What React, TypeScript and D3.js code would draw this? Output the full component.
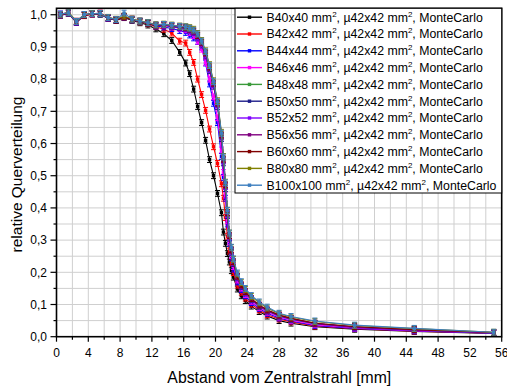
import React from "react";
import * as d3 from "d3";

const X_MM = [0.5,1.5,2.5,3.5,4.5,5.5,6.5,7.5,8.5,9.5,10.5,11.5,12.5,13.5,14.5,15.5,16.25,16.75,17.25,17.75,18.25,18.75,19.25,19.75,20.25,20.75,21.0,21.25,21.5,21.75,22.0,22.25,22.75,23.25,23.75,24.5,25.5,26.5,28,29.5,32.5,37.5,45,55];

const B40 = [1.001,1.004,0.976,0.998,1.004,1.002,0.989,0.982,0.991,0.983,0.975,0.968,0.956, 0.941,0.92,0.883, 0.85,0.817,0.769,0.715,0.665,0.61,0.55,0.5,0.445,0.385, 0.325,0.29,0.258,0.232,0.205,0.185, 0.148,0.127,0.112, 0.095,0.078,0.064, 0.05,0.042,0.031,0.023,0.016,0.01];
const B42 = [0.999,1.007,0.979,0.997,1.002,1.005,0.991,0.985,0.993,0.986,0.978,0.972,0.963, 0.955,0.943,0.918, 0.912,0.883,0.852,0.8,0.752,0.703,0.645,0.59,0.538,0.475, 0.43,0.37,0.312,0.266,0.229,0.199, 0.16,0.138,0.12, 0.101,0.083,0.068, 0.055,0.046,0.033,0.025,0.017,0.011];
const B44 = [1.002,1.005,0.977,1.0,1.003,1.003,0.988,0.983,0.995,0.984,0.98,0.975,0.965, 0.962,0.957,0.951, 0.945,0.937,0.928,0.917,0.9,0.85,0.785,0.725,0.665,0.56, 0.495,0.43,0.35,0.29,0.245,0.21, 0.17,0.146,0.127, 0.106,0.088,0.073, 0.058,0.049,0.035,0.026,0.018,0.011];
const B46 = [1.0,1.006,0.98,0.999,1.002,1.004,0.99,0.985,0.994,0.986,0.979,0.973,0.967, 0.966,0.962,0.958, 0.953,0.945,0.935,0.918,0.893,0.852,0.8,0.745,0.68,0.58, 0.51,0.44,0.36,0.296,0.252,0.218, 0.176,0.151,0.131, 0.11,0.091,0.076, 0.061,0.051,0.037,0.027,0.019,0.012];
const B48 = [1.001,1.005,0.979,1.0,1.004,1.003,0.991,0.984,0.995,0.985,0.978,0.974,0.967, 0.969,0.965,0.962, 0.959,0.955,0.948,0.933,0.912,0.878,0.832,0.784,0.722,0.622, 0.548,0.468,0.382,0.31,0.265,0.229, 0.184,0.157,0.137, 0.116,0.096,0.081, 0.065,0.055,0.041,0.03,0.021,0.012];
const B50 = [0.998,1.004,0.978,0.998,1.003,1.002,0.989,0.983,0.993,0.984,0.979,0.973,0.965, 0.968,0.963,0.96, 0.957,0.952,0.944,0.928,0.906,0.872,0.826,0.778,0.715,0.615, 0.54,0.46,0.376,0.306,0.262,0.227, 0.183,0.156,0.136, 0.115,0.095,0.08, 0.064,0.054,0.04,0.029,0.02,0.012];
const B52 = [1.002,1.007,0.977,0.999,1.004,1.004,0.99,0.985,0.994,0.986,0.98,0.975,0.966, 0.97,0.964,0.961, 0.958,0.953,0.946,0.93,0.909,0.875,0.83,0.782,0.72,0.62, 0.546,0.466,0.38,0.31,0.266,0.23, 0.185,0.158,0.138, 0.117,0.097,0.082, 0.066,0.056,0.041,0.03,0.021,0.012];
const B56 = [0.999,1.005,0.979,1.001,1.003,1.005,0.991,0.984,0.993,0.985,0.978,0.974,0.968, 0.968,0.965,0.962, 0.959,0.955,0.949,0.935,0.913,0.88,0.835,0.786,0.725,0.625, 0.55,0.47,0.385,0.313,0.268,0.232, 0.187,0.16,0.14, 0.118,0.098,0.083, 0.067,0.057,0.042,0.031,0.022,0.013];
const B60 = [1.0,1.006,0.978,0.998,1.002,1.003,0.99,0.983,0.994,0.984,0.979,0.973,0.966, 0.969,0.966,0.963, 0.96,0.956,0.95,0.936,0.915,0.882,0.838,0.788,0.726,0.627, 0.552,0.472,0.386,0.314,0.27,0.233, 0.188,0.161,0.14, 0.118,0.098,0.083, 0.067,0.057,0.042,0.031,0.022,0.013];
const B80 = [1.001,1.008,0.98,1.0,1.004,1.004,0.992,0.986,0.996,0.987,0.981,0.976,0.969, 0.971,0.968,0.965, 0.963,0.96,0.955,0.942,0.92,0.888,0.845,0.795,0.733,0.635, 0.56,0.48,0.393,0.322,0.277,0.24, 0.195,0.168,0.147, 0.125,0.105,0.089, 0.071,0.061,0.047,0.035,0.025,0.014];
const B100 = [1.002,1.006,0.979,1.001,1.003,1.004,0.991,0.985,1.005,0.986,0.98,0.975,0.968, 0.97,0.967,0.964, 0.962,0.958,0.952,0.94,0.918,0.885,0.842,0.792,0.73,0.632, 0.558,0.478,0.392,0.322,0.278,0.242, 0.198,0.171,0.15, 0.128,0.108,0.092, 0.073,0.063,0.049,0.036,0.026,0.014];

const SERIES_VALUES = [B40, B42, B44, B46, B48, B50, B52, B56, B60, B80, B100];
const SERIES_SIZES = ["40x40", "42x42", "44x44", "46x46", "48x48", "50x50", "52x52", "56x56", "60x60", "80x80", "100x100"];
const SERIES_COLORS = ["#000000", "#ff0000", "#0000ff", "#ff00ff", "#3a9a3a", "#1c1c8a", "#8000ff", "#800080", "#800000", "#808000", "#3d7ebf"];
const ERR = 0.009;

const X_TICKS = [0, 4, 8, 12, 16, 20, 24, 28, 32, 36, 40, 44, 48, 52, 56];
const Y_TICKS = [0, 0.1, 0.2, 0.3, 0.4, 0.5, 0.6, 0.7, 0.8, 0.9, 1.0];

const W = 507, H = 389;
const L = 56.5, R = 501.7, T = 8.3, B = 336.7;
const FONT = "'Liberation Sans', Arial, sans-serif";

export default function App() {
  const x = d3.scaleLinear().domain([0, 56]).range([L, R]);
  const y = d3.scaleLinear().domain([0, 1.02]).range([B, T]);
  const line = d3.line<number>().x((_, i) => x(X_MM[i])).y((v) => y(v));

  const xMinor = d3.range(0, 57, 2);
  const yMinor = d3.range(0, 21).map((i) => i * 0.05);
  const fmt = (v: number) => v.toFixed(1).replace(".", ",");

  const legTop = T, legLeft = 235, legBottom = 193;
  const rowH = 16.8;

  return (
    <svg width={W} height={H} style={{ position: "absolute", left: 0, top: 0, background: "#fff" }} fontFamily={FONT}>
      <rect x={0} y={0} width={W} height={H} fill="#fff" />
      {/* grid */}
      {xMinor.filter((v) => v > 0 && v < 56).map((v) => (
        <line key={"gx" + v} x1={x(v)} x2={x(v)} y1={T} y2={B} stroke="#cfcfcf" strokeWidth={1} />
      ))}
      {yMinor.filter((v) => v > 0).map((v) => (
        <line key={"gy" + v} x1={L} x2={R} y1={y(v)} y2={y(v)} stroke="#cfcfcf" strokeWidth={1} />
      ))}
      {/* series */}
      {SERIES_VALUES.map((vals, si) => (
        <g key={"s" + si} stroke={SERIES_COLORS[si]} fill={SERIES_COLORS[si]}>
          <path d={line(vals) || ""} fill="none" strokeWidth={1.1} />
          {vals.map((v, i) => {
            const cx = x(X_MM[i]);
            const y1 = y(v + ERR), y2 = y(v - ERR);
            return (
              <g key={i} strokeWidth={1}>
                <line x1={cx} x2={cx} y1={y1} y2={y2} />
                <line x1={cx - 2.5} x2={cx + 2.5} y1={y1} y2={y1} />
                <line x1={cx - 2.5} x2={cx + 2.5} y1={y2} y2={y2} />
                <rect x={cx - 1.7} y={y(v) - 1.7} width={3.4} height={3.4} stroke="none" />
              </g>
            );
          })}
        </g>
      ))}
      {/* frame */}
      <rect x={L} y={T} width={R - L} height={B - T} fill="none" stroke="#000" strokeWidth={1.6} />
      {/* ticks */}
      {xMinor.map((v) => (
        <line key={"tx" + v} x1={x(v)} x2={x(v)} y1={B} y2={B + (v % 4 === 0 ? 5 : 3)} stroke="#000" strokeWidth={1.2} />
      ))}
      {yMinor.map((v, i) => (
        <line key={"ty" + i} x1={L - (i % 2 === 0 ? 6 : 3)} x2={L} y1={y(v)} y2={y(v)} stroke="#000" strokeWidth={1.2} />
      ))}
      {X_TICKS.map((v) => (
        <text key={"lx" + v} x={x(v)} y={356.5} textAnchor="middle" fontSize={12} fill="#000">{v}</text>
      ))}
      {Y_TICKS.map((v) => (
        <text key={"ly" + v} x={47} y={y(v) + 4.3} textAnchor="end" fontSize={12} fill="#000">{fmt(v)}</text>
      ))}
      <text x={279.3} y={382.5} textAnchor="middle" fontSize={15.8} fill="#000">Abstand vom Zentralstrahl [mm]</text>
      <text transform={`translate(21.5,174.5) rotate(-90)`} textAnchor="middle" fontSize={15.5} fill="#000">relative Querverteilung</text>
      {/* legend */}
      <rect x={legLeft} y={legTop} width={R - legLeft} height={legBottom - legTop} fill="#fff" stroke="#000" strokeWidth={1} />
      {SERIES_SIZES.map((s, i) => {
        const cy = 17.2 + i * rowH;
        const c = SERIES_COLORS[i];
        return (
          <g key={"lg" + i}>
            <line x1={237} x2={262} y1={cy} y2={cy} stroke={c} strokeWidth={1.4} />
            <rect x={249.5 - 1.7} y={cy - 1.7} width={3.4} height={3.4} fill={c} />
            <text x={266.5} y={cy + 4.3} fontSize={12.3} fill="#000">
              {"B" + s + " mm"}
              <tspan dy={-5} fontSize={8}>2</tspan>
              <tspan dy={5}>{", \u00b542x42 mm"}</tspan>
              <tspan dy={-5} fontSize={8}>2</tspan>
              <tspan dy={5}>{", MonteCarlo"}</tspan>
            </text>
          </g>
        );
      })}
    </svg>
  );
}
